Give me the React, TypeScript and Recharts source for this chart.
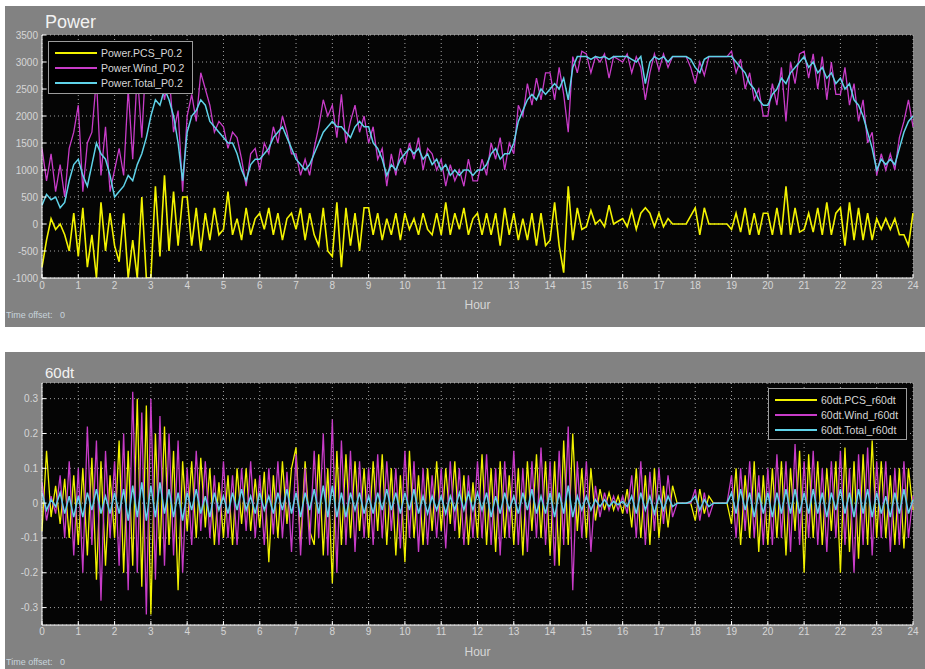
import React from "react";
import { LineChart, Line, XAxis, YAxis, CartesianGrid, Legend } from "recharts";

// samples every 7.5 min (8 per hour), one row per hour
const STEP = 0.125;

const hourTicks = [0, 1, 2, 3, 4, 5, 6, 7, 8, 9, 10, 11, 12, 13, 14, 15, 16, 17, 18, 19, 20, 21, 22, 23, 24];
const powerTicks = [-1000, -500, 0, 500, 1000, 1500, 2000, 2500, 3000, 3500];
const rateTicks = [-0.3, -0.2, -0.1, 0, 0.1, 0.2, 0.3];

const pcsPower = [
  -800, -300, 100, -100, 0, -200, -500, 200,
  -600, 300, -800, -200, -1000, 400, -500, 200,
  -400, -700, 200, -1000, -300, -1000, 500, -1000,
  -1000, 700, -600, 900, -500, 600, -400, 500,
  500, -400, 300, -500, 200, -300, 300, -200,
  -100, 600, -200, 100, -300, 300, -200, 100,
  200, -100, 300, -200, 200, -300, 100, 200,
  -100, 300, -300, 200, -200, -400, 300, -500,
  -600, 400, -800, 300, -400, 200, -500, 300,
  300, -200, 200, -300, 100, -200, 200, -300,
  200, -100, 100, -200, 200, -100, -200, 200,
  -200, 400, -200, 200, -100, 300, -200, 100,
  200, -200, 200, -200, 200, -400, 300, -200,
  200, -300, 100, -300, 200, -400, 200, -400,
  -300, 400, -400, -900, 700, -300, 300, -100,
  -50, 250, 0, 80, -50, 350, 0, 50,
  100, -50, 250, -100, 200, 300, 200, -50,
  200, -50, 100, 0, 0, 0, 0, 150,
  300, -200, 300, 0, 0, 0, 0, 0,
  -100, 200, -150, 300, -200, 200, -200, 200,
  200, -200, 300, -200, 700, -200, 300, -150,
  -100, 200, -150, 300, -200, 400, -200, 200,
  300, -400, 400, -300, 300, -300, 200, -300,
  100, -100, 100, -100, 100, -200, -200, -400,
  200,
];

const windPower = [
  1400, 800, 1300, 600, 1100, 500, 1400, 1700,
  2200, 600, 1500, 1700, 2700, 900, 1800, 600,
  1000, 1400, 900, 2500, 1200, 2800, 1600, 3200,
  3000, 2600, 2900, 2300, 2800, 1700, 2100, 600,
  2000, 2400, 1900, 2800, 2500, 2200, 1700, 1900,
  1800, 1400, 1700, 1600, 1200, 700, 1300, 1400,
  1000, 1500, 1300, 1800, 1500, 2000, 1700, 1300,
  1300, 900, 1200, 900, 1400, 1800, 2300, 2000,
  2200, 1600, 2400, 1500, 1900, 2200, 1700, 2000,
  1500, 1800, 1200, 1400, 700, 1300, 900, 1400,
  1100, 1500, 1200, 1600, 1000, 1400, 1300, 1000,
  1200, 700, 1100, 800, 1000, 700, 1200, 800,
  800, 1200, 900, 1500, 1200, 1600, 1000, 1500,
  1300, 2200, 2000, 2600, 2200, 2700, 2300, 2800,
  2800, 2300, 2900, 2400, 1700, 3100, 2800, 3200,
  3150, 2800, 3100, 3000, 3150, 2700, 3100, 3050,
  3000, 3150, 2800, 3100, 2900, 2300, 2800, 3150,
  2850, 3150, 2900, 3100, 3100, 3100, 3100, 2900,
  2600, 3000, 2750, 3100, 3100, 3100, 3100, 3100,
  3200, 2800, 3050, 2500, 2800, 2300, 2500, 2000,
  2000, 2600, 2200, 2900, 1900, 3000, 2600, 3150,
  3200, 2700, 3150, 2500, 3100, 2300, 3000, 2400,
  2400, 2900, 2200, 2600, 1900, 2300, 1500, 1700,
  900, 1300, 1000, 1300, 1000, 1600, 1900, 2300,
  1800,
];

const totalPower = [
  350, 550, 450, 500, 300, 400, 800, 1100,
  1200, 900, 700, 1100, 1500, 1300, 1200, 900,
  500, 600, 700, 900, 800, 1100, 1300, 1600,
  2000, 2300, 2200, 2500, 2300, 2000, 1500, 800,
  1700, 2000, 2100, 2300, 2200, 1900, 1800, 1700,
  1600, 1500, 1500, 1300, 1000, 800, 1100, 1200,
  1200, 1300, 1400, 1600, 1700, 1800, 1600, 1400,
  1200, 1100, 1000, 1100, 1300, 1500, 1700, 1800,
  1900, 1800, 1800, 1700, 1600, 1800, 1900, 1800,
  1800, 1500, 1400, 1200, 900, 1100, 1000, 1200,
  1300, 1400, 1300, 1400, 1200, 1300, 1100, 1200,
  1000, 1100, 900, 1000, 900, 1000, 1000, 900,
  1000, 1000, 1100, 1300, 1400, 1200, 1300, 1300,
  1500, 1900, 2100, 2300, 2400, 2300, 2500, 2400,
  2500, 2600, 2500, 2700, 2300, 2900, 3100, 3100,
  3100, 3050, 3100, 3080, 3100, 3050, 3100, 3100,
  3100, 3100, 3050, 3000, 3100, 2600, 3000, 3100,
  3050, 3100, 3000, 3100, 3100, 3100, 3100, 3050,
  2900, 2800, 3050, 3100, 3100, 3100, 3100, 3100,
  3100, 3000, 2900, 2800, 2600, 2500, 2300, 2200,
  2200, 2400, 2500, 2700, 2600, 2800, 2900, 3000,
  3100, 2900, 3000, 2800, 2900, 2700, 2800, 2600,
  2700, 2500, 2600, 2300, 2200, 2000, 1700, 1400,
  1000, 1200, 1100, 1200, 1100, 1400, 1700, 1900,
  2000,
];

const pcsRate = [
  -0.08, 0.15, -0.04, 0.05, -0.06, 0.07, -0.1, 0.08,
  -0.12, 0.1, -0.15, 0.13, -0.22, 0.12, -0.18, 0.08,
  -0.1, 0.18, -0.2, 0.15, -0.18, 0.3, -0.24, 0.28,
  -0.32, 0.2, -0.15, 0.22, -0.12, 0.15, -0.25, 0.12,
  -0.08, 0.12, -0.1, 0.13, -0.07, 0.1, -0.12, 0.06,
  -0.1, 0.08, -0.12, 0.1, -0.06, 0.1, -0.08, 0.07,
  -0.07, 0.09, -0.17, 0.08, -0.1, 0.12, -0.06, 0.1,
  0.16, -0.12, 0.12, -0.08, -0.12, 0.14, -0.15, 0.1,
  -0.23, 0.15, -0.12, 0.14, -0.1, 0.12, -0.08, 0.1,
  -0.1, 0.12, -0.08, 0.14, -0.12, 0.1, -0.15, 0.08,
  -0.17, 0.15, -0.1, 0.08, -0.12, 0.1, -0.08, 0.12,
  -0.08, 0.1, -0.06, 0.12, -0.1, 0.08, -0.12, 0.06,
  -0.1, 0.14, -0.12, 0.1, -0.14, 0.12, -0.1, 0.08,
  -0.12, 0.1, -0.15, 0.12, -0.08, 0.14, -0.1, 0.12,
  -0.15, 0.12, -0.18, 0.18, -0.12, 0.2, -0.08, 0.1,
  -0.1, 0.1, -0.05, 0.04, -0.02, 0.03, -0.02, 0.02,
  -0.03, 0.04, -0.07, 0.1, -0.1, 0.08, -0.12, 0.1,
  -0.1, 0.05, -0.07, 0.05, 0, 0, 0, 0,
  -0.05, 0.04, -0.03, 0.02, 0, 0, 0, 0,
  -0.06, 0.1, -0.12, 0.08, -0.1, 0.12, -0.14, 0.08,
  -0.12, 0.1, -0.1, 0.12, -0.15, 0.1, -0.08, 0.15,
  -0.2, 0.14, -0.1, 0.12, -0.12, 0.1, -0.08, 0.12,
  -0.2, 0.16, -0.14, 0.12, -0.16, 0.14, -0.12, 0.18,
  -0.1, 0.12, -0.1, 0.08, -0.12, 0.1, -0.13, 0.1,
  -0.02,
];

const windRate = [
  0.06, -0.05, 0.02, -0.03, 0.08, -0.1, 0.12, -0.15,
  0.1, -0.2, 0.22, -0.12, 0.18, -0.28, 0.15, -0.1,
  0.12, -0.18, 0.2, -0.25, 0.32, -0.2, 0.26, -0.32,
  0.3, -0.22, 0.25, -0.18, 0.2, -0.15, 0.18, -0.2,
  0.1, -0.12, 0.15, -0.08, 0.12, -0.1, 0.08, -0.12,
  0.12, -0.1, 0.08, -0.12, 0.1, -0.08, 0.12, -0.1,
  0.08, -0.12, 0.1, -0.09, 0.12, -0.1, 0.09, -0.14,
  0.14, -0.15, 0.1, -0.12, 0.15, -0.1, 0.2, -0.15,
  0.24, -0.2, 0.18, -0.12, 0.15, -0.14, 0.12, -0.1,
  0.1, -0.12, 0.14, -0.1, 0.12, -0.08, 0.1, -0.13,
  0.15, -0.1, 0.12, -0.14, 0.1, -0.12, 0.08, -0.1,
  0.1, -0.13, 0.12, -0.08, 0.1, -0.12, 0.08, -0.1,
  0.12, -0.1, 0.14, -0.12, 0.1, -0.15, 0.12, -0.1,
  0.15, -0.12, 0.1, -0.14, 0.12, -0.1, 0.16, -0.12,
  0.12, -0.18, 0.15, -0.12, 0.22, -0.25, 0.12, -0.1,
  0.12, -0.14, 0.05, -0.04, 0.03, -0.02, 0.02, -0.02,
  0.02, -0.03, 0.08, -0.1, 0.12, -0.12, 0.09, -0.08,
  0.1, -0.06, 0.08, -0.04, 0, 0, 0, 0,
  0.04, -0.05, 0.03, -0.04, 0, 0, 0, 0,
  0.08, -0.1, 0.1, -0.08, 0.12, -0.1, 0.08, -0.12,
  0.1, -0.12, 0.14, -0.1, 0.12, -0.14, 0.17, -0.12,
  0.12, -0.1, 0.15, -0.12, 0.1, -0.14, 0.12, -0.1,
  0.15, -0.12, 0.1, -0.2, 0.14, -0.12, 0.16, -0.15,
  0.12, -0.1, 0.12, -0.14, 0.1, -0.12, 0.12, -0.1,
  0.02,
];

const totalRate = [
  0.03, -0.02, 0.01, -0.01, 0.03, -0.03, 0.02, -0.04,
  0.02, -0.04, 0.03, -0.02, 0.04, -0.03, 0.02, -0.03,
  0.03, -0.03, 0.04, -0.05, 0.05, -0.04, 0.06, -0.05,
  0.05, -0.04, 0.06, -0.03, 0.04, -0.04, 0.03, -0.05,
  0.03, -0.02, 0.04, -0.03, 0.02, -0.04, 0.03, -0.02,
  0.02, -0.03, 0.03, -0.02, 0.04, -0.02, 0.02, -0.03,
  0.03, -0.02, 0.02, -0.03, 0.03, -0.02, 0.04, -0.03,
  0.03, -0.04, 0.03, -0.02, 0.04, -0.03, 0.05, -0.04,
  0.05, -0.04, 0.03, -0.04, 0.03, -0.02, 0.03, -0.03,
  0.02, -0.03, 0.03, -0.02, 0.04, -0.02, 0.03, -0.03,
  0.03, -0.02, 0.04, -0.03, 0.02, -0.03, 0.02, -0.02,
  0.02, -0.03, 0.02, -0.02, 0.03, -0.02, 0.03, -0.02,
  0.03, -0.02, 0.03, -0.04, 0.02, -0.03, 0.03, -0.02,
  0.02, -0.03, 0.03, -0.02, 0.04, -0.03, 0.02, -0.03,
  0.03, -0.04, 0.03, -0.03, 0.05, -0.04, 0.02, -0.02,
  0.02, -0.02, 0.01, -0.01, 0.01, -0.01, 0.005, -0.005,
  0.005, -0.01, 0.02, -0.03, 0.03, -0.02, 0.02, -0.03,
  0.02, -0.02, 0.02, -0.01, 0, 0, 0, 0.005,
  0.02, -0.02, 0.01, -0.01, 0, 0, 0, 0,
  0.03, -0.03, 0.04, -0.02, 0.03, -0.04, 0.03, -0.03,
  0.03, -0.04, 0.03, -0.03, 0.04, -0.03, 0.04, -0.03,
  0.03, -0.03, 0.04, -0.03, 0.03, -0.04, 0.03, -0.02,
  0.04, -0.03, 0.03, -0.04, 0.04, -0.03, 0.04, -0.04,
  0.03, -0.03, 0.02, -0.04, 0.03, -0.03, 0.04, -0.03,
  0.01,
];

const YELLOW = "#f2f200";
const MAGENTA = "#c83cc8";
const CYAN = "#5fd2e8";
const PANEL = "#828282";
const LABEL = "#d6d6d6";
const FONT = "'Liberation Sans', Arial, sans-serif";

function buildRows(pcs: number[], wind: number[], total: number[]) {
  return pcs.map((v, i) => ({ hour: i * STEP, pcs: v, wind: wind[i], total: total[i] }));
}

const powerRows = buildRows(pcsPower, windPower, totalPower);
const rateRows = buildRows(pcsRate, windRate, totalRate);

// keep the legend in series order (the default sorts by name)
function ScopeLegend({ payload, order }: { payload?: any[]; order: string[] }) {
  const items = order
    .map((name) => (payload || []).find((p) => p.value === name))
    .filter(Boolean);
  return (
    <div
      style={{
        background: "#000",
        border: "1px solid #9c9c9c",
        boxSizing: "border-box",
        width: "100%",
        height: "100%",
        padding: "3px 6px",
        fontFamily: FONT,
        fontSize: 10.5,
        color: LABEL,
      }}
    >
      {items.map((p: any) => (
        <div key={p.value} style={{ display: "flex", alignItems: "center", height: 15 }}>
          <span style={{ width: 42, height: 2, background: p.color, marginRight: 4 }} />
          <span>{p.value}</span>
        </div>
      ))}
    </div>
  );
}

interface PanelProps {
  top: number;
  height: number;
  title: string;
  titleSize: number;
  titleTop: number;
  rows: any[];
  domain: [number, number];
  yTicks: number[];
  names: [string, string, string];
  marginTop: number;
  xAxisHeight: number;
  tickGap: number;
  pcsWidth: number;
  legendBox: { left: number; top: number; width: number; height: number };
  hourTop: number;
  offsetTop: number;
}

function ScopePanel(p: PanelProps) {
  const tick = { fill: LABEL, fontSize: 10, fontFamily: FONT };
  return (
    <div style={{ position: "absolute", left: 5, top: p.top, width: 920, height: p.height, background: PANEL }}>
      <LineChart
        width={920}
        height={p.height}
        data={p.rows}
        margin={{ top: p.marginTop, right: 12, bottom: 0, left: 0 }}
      >
        <CartesianGrid fill="#050505" stroke="#c8c8c8" strokeDasharray="1 3" strokeOpacity={0.8} />
        <XAxis
          dataKey="hour"
          type="number"
          domain={[0, 24]}
          ticks={hourTicks}
          interval={0}
          height={p.xAxisHeight}
          tick={tick}
          tickSize={-4}
          tickMargin={p.tickGap}
          axisLine={{ stroke: "#ffffff" }}
          tickLine={{ stroke: "#ffffff" }}
        />
        <XAxis
          xAxisId="top"
          orientation="top"
          dataKey="hour"
          type="number"
          domain={[0, 24]}
          ticks={hourTicks}
          interval={0}
          height={0}
          tick={false}
          tickSize={-4}
          axisLine={{ stroke: "#e0e0e0" }}
          tickLine={{ stroke: "#ffffff" }}
        />
        <YAxis
          type="number"
          domain={p.domain}
          ticks={p.yTicks}
          interval={0}
          allowDataOverflow
          width={37}
          tick={tick}
          tickSize={-4}
          tickMargin={8}
          axisLine={{ stroke: "#ffffff" }}
          tickLine={{ stroke: "#ffffff" }}
        />
        <YAxis
          yAxisId="right"
          orientation="right"
          type="number"
          domain={p.domain}
          ticks={p.yTicks}
          interval={0}
          allowDataOverflow
          width={0}
          tick={false}
          tickSize={-4}
          axisLine={{ stroke: "#e0e0e0" }}
          tickLine={{ stroke: "#ffffff" }}
        />
        <Legend
          layout="vertical"
          align="center"
          verticalAlign="middle"
          wrapperStyle={{ ...p.legendBox }}
          content={(props: any) => <ScopeLegend payload={props.payload} order={p.names} />}
        />
        <Line name={p.names[0]} dataKey="pcs" stroke={YELLOW} strokeWidth={p.pcsWidth} dot={false} type="linear" isAnimationActive={false} />
        <Line name={p.names[1]} dataKey="wind" stroke={MAGENTA} strokeWidth={1.3} dot={false} type="linear" isAnimationActive={false} />
        <Line name={p.names[2]} dataKey="total" stroke={CYAN} strokeWidth={1.5} dot={false} type="linear" isAnimationActive={false} />
      </LineChart>
      <div
        style={{
          position: "absolute",
          left: 40,
          top: p.titleTop,
          fontFamily: FONT,
          fontSize: p.titleSize,
          color: "#f2f2f2",
          lineHeight: 1,
        }}
      >
        {p.title}
      </div>
      <div
        style={{
          position: "absolute",
          left: 0,
          width: 945,
          textAlign: "center",
          top: p.hourTop,
          fontFamily: FONT,
          fontSize: 12,
          color: LABEL,
          lineHeight: 1,
        }}
      >
        Hour
      </div>
      <div
        style={{
          position: "absolute",
          left: 1,
          top: p.offsetTop,
          fontFamily: FONT,
          fontSize: 9,
          color: "#c8d4dc",
          lineHeight: 1,
          whiteSpace: "pre",
        }}
      >
        {"Time offset:   0"}
      </div>
    </div>
  );
}

export default function App() {
  return (
    <div style={{ position: "absolute", left: 0, top: 0, width: 925, height: 669, background: "#ffffff" }}>
      <ScopePanel
        top={6}
        height={321}
        title="Power"
        titleSize={18}
        titleTop={7}
        rows={powerRows}
        domain={[-1000, 3500]}
        yTicks={powerTicks}
        names={["Power.PCS_P0.2", "Power.Wind_P0.2", "Power.Total_P0.2"]}
        marginTop={29}
        xAxisHeight={49}
        tickGap={8}
        pcsWidth={1.6}
        legendBox={{ left: 43, top: 35, width: 145, height: 53 }}
        hourTop={293}
        offsetTop={305}
      />
      <ScopePanel
        top={352}
        height={317}
        title="60dt"
        titleSize={15}
        titleTop={13}
        rows={rateRows}
        domain={[-0.35, 0.345]}
        yTicks={rateTicks}
        names={["60dt.PCS_r60dt", "60dt.Wind_r60dt", "60dt.Total_r60dt"]}
        marginTop={31}
        xAxisHeight={44}
        tickGap={7}
        pcsWidth={1.3}
        legendBox={{ left: 763, top: 36, width: 139, height: 52 }}
        hourTop={294}
        offsetTop={306}
      />
    </div>
  );
}
